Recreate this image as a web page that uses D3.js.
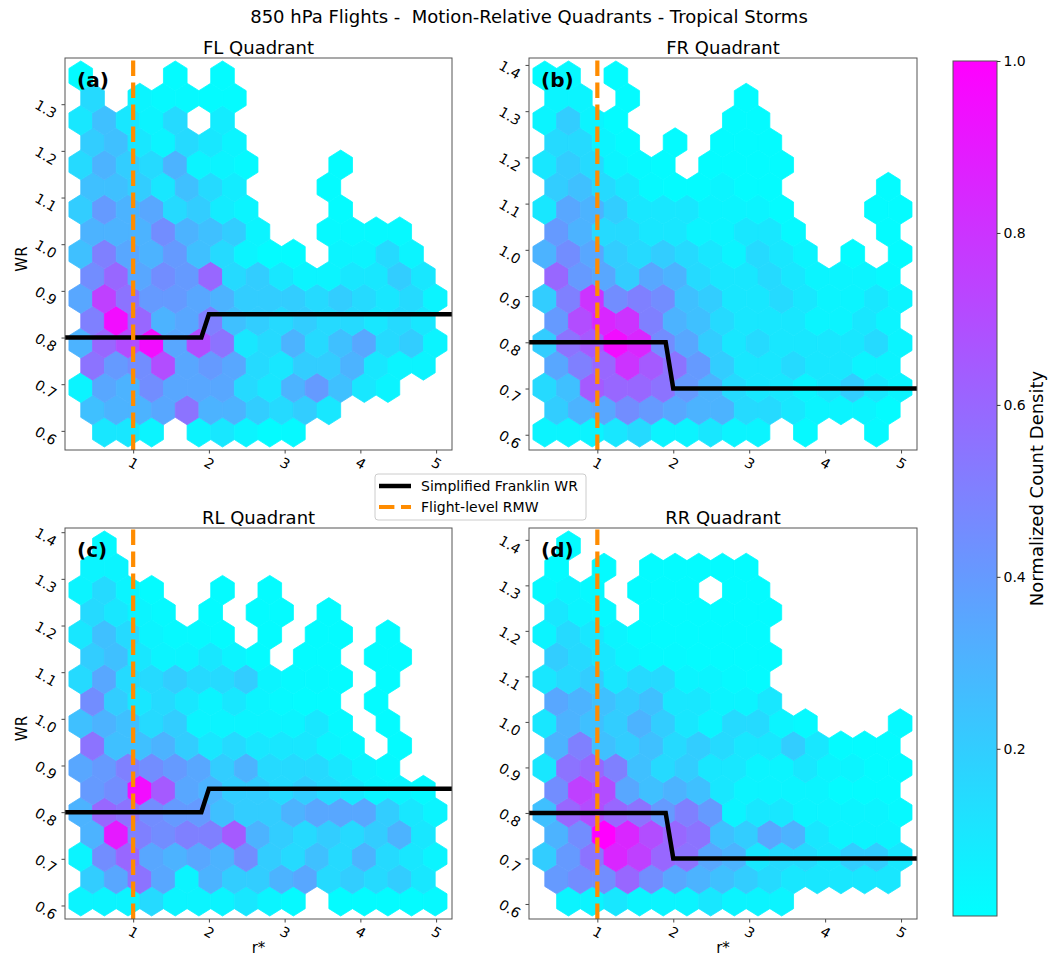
<!DOCTYPE html>
<html>
<head>
<meta charset="utf-8">
<script src="https://cdn.jsdelivr.net/npm/d3@7"></script>
<style>
  body { margin: 0; background: #fff; }
  text { font-family: "DejaVu Sans", sans-serif; fill: #000; }
</style>
</head>
<body>
<svg id="fig" width="1060" height="957"></svg>
<script>
// ---- data -----------------------------------------------------------
const _ = null;
const quadrants = ["FL", "FR", "RL", "RR"];
const panelTags = ["(a)", "(b)", "(c)", "(d)"];
const figureTitle = "850 hPa Flights -  Motion-Relative Quadrants - Tropical Storms";

// simplified Franklin wind-reduction ratio, inner / outer value and the r* of the switch
const franklinInner = [0.80, 0.80, 0.80, 0.80];
const franklinOuter = [0.85, 0.70, 0.85, 0.70];
const franklinSwitch = [1.9, 2.0];
const rmwRadius = 1;

const xTicks = [1, 2, 3, 4, 5];
const yTicks = [0.6, 0.7, 0.8, 0.9, 1.0, 1.1, 1.2, 1.3, 1.4];
const cbarTicks = [0.2, 0.4, 0.6, 0.8, 1.0];
const cbarRange = [0.0055, 1.0];

const xLimits = [0.1, 5.21];
const yLimits = [[0.559, 1.399], [0.567, 1.415], [0.571, 1.409], [0.567, 1.426]];

// hexagonal bins: 15 bins across r*, 8 across WR (two interleaved lattices)
const binX0 = 0.308, binDX = 0.312, binsY = 8;

// normalized count density, one row per lattice row from bottom to top
// even rows: 16 bins centred on binX0 + i*binDX; odd rows: 15 bins offset by half a bin
const densityFL = [
  [_, .10, .10, .05, _, .05, .10, .05, .02, .03, _, _, _, _, _, _],
  [.25, .30, .30, .35, .55, .30, .30, .20, .15, .20, .10, _, _, _, _],
  [.05, .35, .30, .45, .35, .35, .35, .15, .10, .30, .40, .25, .10, .05, _, _],
  [.55, .40, .45, .70, .35, .40, .35, .15, .10, .20, .20, .30, .10, .05, .05],
  [.30, .60, .70, .95, .35, .70, .55, .10, .15, .30, .15, .25, .35, .15, .20, .05],
  [.50, .95, .60, .30, .35, .50, .25, .20, .15, .20, .15, .15, .10, .15, .10],
  [.35, .75, .55, .40, .40, .35, .30, .20, .20, .20, .15, .20, .15, .10, .15, .05],
  [.45, .60, .35, .45, .40, .60, .15, .20, .10, .05, .05, .10, .10, .20, .10],
  [.25, .50, .35, .30, .40, .25, .15, .05, .02, .02, _, .05, .05, .15, .05, _],
  [.30, .30, .30, .45, .30, .25, .20, .05, _, _, .03, .03, .03, .03, _],
  [.20, .40, .30, .35, .15, .20, .08, .05, _, _, _, .02, _, _, _, _],
  [.25, .25, .20, .10, .25, .15, .08, _, _, _, .02, _, _, _, _],
  [.15, .30, .20, .15, .30, .05, .05, .03, _, _, _, .02, _, _, _, _],
  [.20, .25, .10, .05, .15, .10, .05, _, _, _, _, _, _, _, _],
  [.10, .25, .10, .05, .15, _, .08, _, _, _, _, _, _, _, _, _],
  [.15, _, .05, .03, .03, .02, .02, _, _, _, _, _, _, _, _],
  [.02, _, _, _, .02, _, .02, _, _, _, _, _, _, _, _, _]
];
const densityFR = [
  [.05, .05, .05, .10, .15, .05, .05, .10, .05, .05, _, .03, _, _, .03, _],
  [.20, .30, .35, .45, .40, .35, .30, .30, .15, .15, .10, .05, .05, .05, .02],
  [.15, .25, .65, .60, .60, .55, .40, .30, .15, .10, .10, .05, .10, .20, .10, .05],
  [.35, .50, .60, .80, .65, .55, .40, .20, .10, .10, .15, .10, .10, .05, .05],
  [.20, .55, .65, .95, .85, .45, .35, .20, .10, .15, .10, .10, .10, .10, .15, .05],
  [.40, .70, .85, .80, .50, .30, .25, .15, .10, .10, .10, .05, .05, .10, .05],
  [.20, .50, .80, .45, .50, .45, .25, .20, .10, .10, .15, .10, .05, .05, .10, .05],
  [.60, .40, .35, .20, .35, .30, .15, .10, .10, .15, .10, .05, .05, .05, .03],
  [.30, .45, .35, .20, .15, .20, .15, .10, .05, .15, .10, .05, _, .02, _, .02],
  [.40, .30, .15, .15, .10, .10, .05, .05, .10, .10, .03, _, _, _, .02],
  [.10, .35, .30, .20, .10, .10, .10, .05, .05, .05, .02, _, _, _, .02, .02],
  [.20, .25, .15, .10, .03, .02, .02, .05, .02, .02, _, _, _, _, .02],
  [.10, .20, .15, .05, .03, .02, _, .02, .02, .02, .02, _, _, _, _, _],
  [.15, .15, .05, .02, _, .02, _, .02, .02, .02, _, _, _, _, _],
  [.05, .20, .05, .02, _, _, _, _, .02, .02, _, _, _, _, _, _],
  [.05, .05, _, .02, _, _, _, _, .02, _, _, _, _, _, _],
  [.02, .03, _, .02, _, _, _, _, _, _, _, _, _, _, _, _]
];
const densityRL = [
  [.05, .05, .05, .15, .05, .05, .05, .10, .05, .03, _, .02, .02, .02, .02, .03],
  [.20, .35, .55, .35, .05, .30, .20, .20, .30, .35, .15, .20, .15, .20, .10],
  [.05, .45, .60, .35, .30, .35, .30, .45, .20, .15, .25, .15, .30, .15, .10, .05],
  [.30, .90, .50, .45, .50, .50, .65, .30, .20, .15, .20, .15, .20, .30, .10],
  [.30, .60, .55, .45, .40, .40, .25, .20, .20, .30, .35, .35, .35, .20, .10, .05],
  [.40, .45, .95, .65, .35, .30, .20, .20, .15, .20, .15, .10, .05, .05, .03],
  [.35, .40, .50, .45, .40, .35, .20, .30, .15, .15, .15, .10, .05, .03, _, _],
  [.55, .25, .25, .30, .20, .10, .15, .10, .10, .10, .05, .03, _, .02, _],
  [.25, .30, .25, .15, .20, .05, .05, .05, .05, .05, .10, .03, _, .02, _, _],
  [.45, .20, .10, .15, .10, .05, .10, .05, .03, .02, .02, _, .02, _, _],
  [.15, .35, .15, .15, .20, .15, .15, .20, .05, .03, .03, .02, _, .02, _, _],
  [.20, .25, .10, .05, .05, .10, .05, .02, _, .02, .02, _, .02, .02, _],
  [.10, .25, .15, .05, .03, .03, .02, _, .02, _, .02, .02, _, .02, _, _],
  [.15, .10, .05, .03, _, .02, _, .02, .02, _, .02, _, _, _, _],
  [.05, .15, .05, .02, _, _, .02, _, .02, _, _, _, _, _, _, _],
  [.05, .05, _, _, _, _, _, _, _, _, _, _, _, _, _],
  [_, .03, _, _, _, _, _, _, _, _, _, _, _, _, _, _]
];
const densityRR = [
  [_, .05, .05, .10, .05, .05, .05, .10, .05, .05, .05, _, _, _, _, _],
  [.40, .45, .45, .60, .45, .35, .30, .25, .20, .15, .10, .10, .10, .10, .10],
  [.20, .40, .55, .85, .75, .60, .55, .35, .30, .10, .15, .15, .10, .20, .20, .10],
  [.30, .45, 1.0, .85, .70, .60, .55, .25, .20, .35, .30, .10, .05, .05, .05],
  [.25, .60, .70, .60, .55, .40, .50, .40, .05, .10, .10, .05, .05, .05, .05, .03],
  [.45, .75, .70, .35, .25, .30, .25, .10, .05, .05, .05, .05, .02, .02, .02],
  [.10, .55, .60, .50, .25, .15, .20, .10, .10, .05, .05, .10, .05, .05, .02, .02],
  [.30, .50, .25, .20, .25, .15, .20, .15, .10, .10, .20, .10, .02, .02, .02],
  [.10, .30, .25, .20, .30, .20, .10, .05, .15, .15, .05, .03, _, _, _, .03],
  [.35, .30, .25, .20, .25, .10, .10, .05, .05, .10, _, _, _, _, _],
  [.10, .15, .20, .10, .15, .15, .05, .05, .03, .02, _, _, _, _, _, _],
  [.20, .15, .10, .05, .03, .03, .02, .02, .02, .02, _, _, _, _, _],
  [.05, .15, .10, .05, .02, .02, .02, .02, .02, .02, _, _, _, _, _, _],
  [.10, .05, .03, _, .02, .02, .02, .02, .02, .02, _, _, _, _, _],
  [.03, .05, .03, _, .02, .02, .02, _, .02, .02, _, _, _, _, _, _],
  [.02, _, .02, _, .02, .02, .02, .02, .02, _, _, _, _, _, _],
  [_, .02, _, _, _, _, _, _, _, _, _, _, _, _, _, _]
];
const densityByQuadrant = [densityFL, densityFR, densityRL, densityRR];

// ---- drawing --------------------------------------------------------
const svg = d3.select("#fig");
const frames = [
  { x: 65,  y: 58,  w: 387, h: 392 },
  { x: 529, y: 58,  w: 388, h: 392 },
  { x: 65,  y: 528, w: 387, h: 391 },
  { x: 529, y: 528, w: 388, h: 391 }
];

// matplotlib "cool" colormap
const cool = t => { t = Math.max(0, Math.min(1, t)); return d3.rgb(255 * t, 255 * (1 - t), 255).formatRgb(); };
const colorOf = v => cool((v - cbarRange[0]) / (cbarRange[1] - cbarRange[0]));

svg.append("text")
  .attr("x", 529).attr("y", 23)
  .attr("text-anchor", "middle")
  .style("font-size", "18px")
  .style("white-space", "pre")
  .text(figureTitle);

quadrants.forEach((q, p) => {
  const f = frames[p];
  const x = d3.scaleLinear().domain(xLimits).range([0, f.w]);
  const y = d3.scaleLinear().domain(yLimits[p]).range([f.h, 0]);
  const g = svg.append("g").attr("transform", `translate(${f.x},${f.y})`);

  g.append("clipPath").attr("id", "clip" + p)
    .append("rect").attr("width", f.w).attr("height", f.h);
  const plot = g.append("g").attr("clip-path", `url(#clip${p})`);

  // hex lattice geometry in data units
  const span = (yLimits[p][1] - yLimits[p][0]) / 1.1;
  const y0 = yLimits[p][0] + 0.05 * span;
  const dy = span / binsY;

  const cells = [];
  densityByQuadrant[p].forEach((row, k) => {
    const odd = k % 2 === 1;
    row.forEach((v, i) => {
      if (v === null) return;
      cells.push({ cx: binX0 + (i + (odd ? 0.5 : 0)) * binDX, cy: y0 + k * dy / 2, v });
    });
  });
  const hexPoints = c => [
    [c.cx + binDX / 2, c.cy - dy / 6], [c.cx + binDX / 2, c.cy + dy / 6], [c.cx, c.cy + dy / 3],
    [c.cx - binDX / 2, c.cy + dy / 6], [c.cx - binDX / 2, c.cy - dy / 6], [c.cx, c.cy - dy / 3]
  ].map(([a, b]) => `${x(a).toFixed(2)},${y(b).toFixed(2)}`).join(" ");

  plot.selectAll("polygon.hex").data(cells).join("polygon")
    .attr("class", "hex")
    .attr("points", hexPoints)
    .attr("fill", d => colorOf(d.v))
    .attr("stroke", d => colorOf(d.v))
    .attr("stroke-width", 0.8);

  // simplified Franklin WR
  const franklin = [
    [xLimits[0] - 0.2, franklinInner[p]], [franklinSwitch[0], franklinInner[p]],
    [franklinSwitch[1], franklinOuter[p]], [xLimits[1] + 0.2, franklinOuter[p]]
  ];
  plot.append("path")
    .attr("d", d3.line().x(d => x(d[0])).y(d => y(d[1]))(franklin))
    .attr("fill", "none").attr("stroke", "#000").attr("stroke-width", 4.5);

  // flight-level RMW
  plot.append("line")
    .attr("x1", x(rmwRadius)).attr("x2", x(rmwRadius))
    .attr("y1", f.h).attr("y2", 0)
    .attr("stroke", "#ff8c00").attr("stroke-width", 4.2)
    .attr("stroke-dasharray", "15.4,6.6");

  // axes
  const xAxis = g.append("g").attr("transform", `translate(0,${f.h})`)
    .call(d3.axisBottom(x).tickValues(xTicks).tickSize(3.5).tickFormat(d3.format("d")));
  const yAxis = g.append("g")
    .call(d3.axisLeft(y).tickValues(yTicks.filter(t => t >= yLimits[p][0] && t <= yLimits[p][1]))
      .tickSize(3.5).tickFormat(d3.format(".1f")));
  [xAxis, yAxis].forEach(a => {
    a.select(".domain").remove();
    a.selectAll(".tick line").attr("stroke", "#333").attr("stroke-width", 0.9);
    a.selectAll("text").style("font-size", "14px").style("font-family", "DejaVu Sans, sans-serif");
  });
  xAxis.selectAll(".tick text")
    .attr("y", null).attr("dy", "0.35em")
    .attr("text-anchor", "middle")
    .attr("transform", "translate(0,13.5) rotate(30)");
  yAxis.selectAll(".tick text")
    .attr("x", null).attr("dy", "0.35em")
    .attr("text-anchor", "end")
    .attr("transform", "translate(-9.5,10) rotate(30)");

  g.append("rect").attr("width", f.w).attr("height", f.h)
    .attr("fill", "none").attr("stroke", "#555").attr("stroke-width", 1);

  g.append("text")
    .attr("x", f.w / 2).attr("y", -4)
    .attr("text-anchor", "middle").style("font-size", "18px")
    .text(q + " Quadrant");

  g.append("text")
    .attr("x", 12).attr("y", 29)
    .style("font-size", "20px").style("font-weight", "bold")
    .text(panelTags[p]);

  if (p % 2 === 0) {
    g.append("text")
      .attr("transform", `translate(-43,${f.h / 2 + 5}) rotate(-90)`)
      .attr("text-anchor", "middle").attr("dy", "0.35em").style("font-size", "15px")
      .text("WR");
  }
  if (p >= 2) {
    g.append("text")
      .attr("x", f.w / 2).attr("y", f.h + 34)
      .attr("text-anchor", "middle").style("font-size", "15px")
      .text("r*");
  }
});

// legend
const leg = svg.append("g").attr("transform", "translate(375,474)");
leg.append("rect").attr("width", 211).attr("height", 46).attr("rx", 3)
  .attr("fill", "#fff").attr("fill-opacity", 0.8)
  .attr("stroke", "#ccc").attr("stroke-width", 1);
leg.append("line").attr("x1", 4).attr("x2", 36).attr("y1", 12).attr("y2", 12)
  .attr("stroke", "#000").attr("stroke-width", 4.5);
leg.append("text").attr("x", 46).attr("y", 12).attr("dy", "0.35em")
  .style("font-size", "14px").text("Simplified Franklin WR");
leg.append("line").attr("x1", 4).attr("x2", 36).attr("y1", 33).attr("y2", 33)
  .attr("stroke", "#ff8c00").attr("stroke-width", 4.2).attr("stroke-dasharray", "15.4,6.6");
leg.append("text").attr("x", 46).attr("y", 33).attr("dy", "0.35em")
  .style("font-size", "14px").text("Flight-level RMW");

// colorbar
const cb = { x: 953, y: 61, w: 44, h: 855 };
const defs = svg.append("defs");
const grad = defs.append("linearGradient").attr("id", "coolGrad")
  .attr("x1", 0).attr("y1", 1).attr("x2", 0).attr("y2", 0);
d3.range(0, 1.0001, 0.1).forEach(t => {
  grad.append("stop").attr("offset", t).attr("stop-color", cool(t));
});
svg.append("rect").attr("x", cb.x).attr("y", cb.y).attr("width", cb.w).attr("height", cb.h)
  .attr("fill", "url(#coolGrad)").attr("stroke", "#555").attr("stroke-width", 1);
const cScale = d3.scaleLinear().domain(cbarRange).range([cb.y + cb.h, cb.y]);
const cAxis = svg.append("g").attr("transform", `translate(${cb.x + cb.w},0)`)
  .call(d3.axisRight(cScale).tickValues(cbarTicks).tickSize(3.5).tickFormat(d3.format(".1f")));
cAxis.select(".domain").remove();
cAxis.selectAll(".tick line").attr("stroke", "#333");
cAxis.selectAll("text").style("font-size", "14px").style("font-family", "DejaVu Sans, sans-serif");
svg.append("text")
  .attr("transform", `translate(1037,${cb.y + cb.h / 2}) rotate(-90)`)
  .attr("text-anchor", "middle").attr("dy", "0.35em").style("font-size", "18px")
  .text("Normalized Count Density");
</script>
</body>
</html>
